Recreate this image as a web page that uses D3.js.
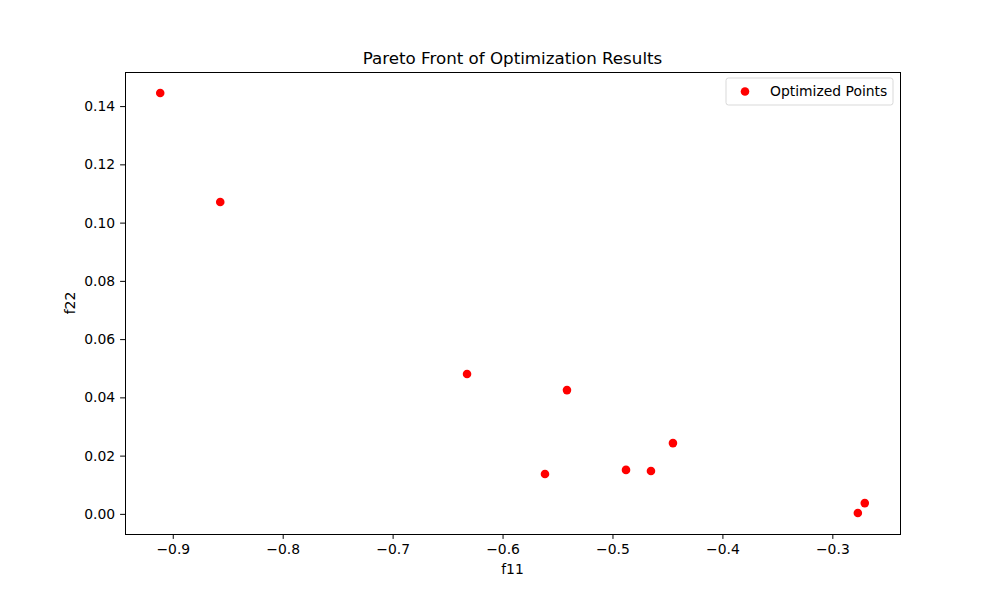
<!DOCTYPE html>
<html>
<head>
<meta charset="utf-8">
<script src="https://cdn.jsdelivr.net/npm/d3@7"></script>
<style>
  body { margin: 0; background: #fff; }
  text { font-family: "DejaVu Sans", sans-serif; fill: #000; }
</style>
</head>
<body>
<div class="chart"></div>
<script>
// data
var f11 = [-0.9114, -0.8568, -0.6323, -0.5414, -0.5614, -0.4877, -0.4650, -0.4450, -0.2768, -0.2705];
var f22 = [0.1445, 0.1071, 0.0480, 0.0425, 0.0137, 0.0151, 0.0147, 0.0243, 0.0003, 0.0037];
var xTicks = [-0.9, -0.8, -0.7, -0.6, -0.5, -0.4, -0.3];
var yTicks = [0.00, 0.02, 0.04, 0.06, 0.08, 0.10, 0.12, 0.14];

var svgWidth = 1000;
var svgHeight = 600;
var margin = { top: 72, right: 100, bottom: 66, left: 125 };
var width = svgWidth - margin.left - margin.right;
var height = svgHeight - margin.top - margin.bottom;

var points = f11.map(function(d, i) { return { x: d, y: f22[i] }; });

var svg = d3.select(".chart")
  .append("svg")
  .attr("width", svgWidth)
  .attr("height", svgHeight);

var chartGroup = svg.append("g")
  .attr("transform", `translate(${margin.left}, ${margin.top})`);

// matplotlib-like 5% padding around data
function padded(ext) {
  var pad = (ext[1] - ext[0]) * 0.05;
  return [ext[0] - pad, ext[1] + pad];
}

var xScale = d3.scaleLinear()
  .domain(padded(d3.extent(f11)))
  .range([0, width]);

var yScale = d3.scaleLinear()
  .domain(padded(d3.extent(f22)))
  .range([height, 0]);

var minus = function(s) { return s.replace("-", "\u2212"); };

var bottomAxis = d3.axisBottom(xScale)
  .tickValues(xTicks)
  .tickSize(4.9)
  .tickPadding(4.9)
  .tickFormat(function(d) { return minus(d3.format(".1f")(d)); });

var leftAxis = d3.axisLeft(yScale)
  .tickValues(yTicks)
  .tickSize(4.9)
  .tickPadding(4.9)
  .tickFormat(d3.format(".2f"));

var xAxis = chartGroup.append("g")
  .attr("transform", `translate(0, ${height})`)
  .call(bottomAxis);

var yAxis = chartGroup.append("g")
  .call(leftAxis);

[xAxis, yAxis].forEach(function(ax) {
  ax.select(".domain").remove();
  ax.selectAll("line").attr("stroke", "#000").attr("stroke-width", 1);
  ax.selectAll("text")
    .style("font-family", "DejaVu Sans")
    .style("font-size", "13.9px")
    .attr("fill", "#000");
});

// frame
chartGroup.append("rect")
  .attr("x", 0.5)
  .attr("y", 0.5)
  .attr("width", width)
  .attr("height", height)
  .attr("fill", "none")
  .attr("stroke", "#000")
  .attr("stroke-width", 1);

// points
chartGroup.selectAll("circle.pt")
  .data(points)
  .enter()
  .append("circle")
  .attr("class", "pt")
  .attr("cx", d => xScale(d.x))
  .attr("cy", d => yScale(d.y))
  .attr("r", 4.3)
  .attr("fill", "#ff0000");

// title and axis labels
svg.append("text")
  .attr("x", margin.left + width / 2)
  .attr("y", margin.top - 8)
  .attr("text-anchor", "middle")
  .style("font-size", "16.7px")
  .text("Pareto Front of Optimization Results");

svg.append("text")
  .attr("x", margin.left + width / 2)
  .attr("y", 574)
  .attr("text-anchor", "middle")
  .style("font-size", "13.9px")
  .text("f11");

svg.append("text")
  .attr("transform", `translate(75, ${margin.top + height / 2}) rotate(-90)`)
  .attr("text-anchor", "middle")
  .style("font-size", "13.9px")
  .text("f22");

// legend
var legend = chartGroup.append("g")
  .attr("transform", `translate(${width - 174}, 6)`);

legend.append("rect")
  .attr("width", 167)
  .attr("height", 27)
  .attr("rx", 2.5)
  .attr("fill", "#fff")
  .attr("fill-opacity", 0.8)
  .attr("stroke", "#d9d9d9")
  .attr("stroke-width", 1);

legend.append("circle")
  .attr("cx", 19)
  .attr("cy", 13.5)
  .attr("r", 4.3)
  .attr("fill", "#ff0000");

legend.append("text")
  .attr("x", 44)
  .attr("y", 18)
  .style("font-size", "13.9px")
  .text("Optimized Points");
</script>
</body>
</html>
